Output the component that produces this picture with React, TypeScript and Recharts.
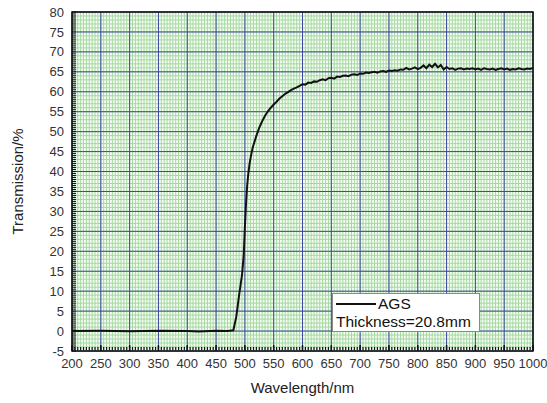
import {
  CartesianGrid,
  Legend,
  Line,
  LineChart,
  ReferenceArea,
  XAxis,
  YAxis
} from "recharts";

const wavelength = [
  200, 250, 300, 350, 400, 420, 450, 470, 480, 485, 490, 495, 498, 500, 502, 504, 506, 508, 510, 512,
  514, 517, 520, 525, 530, 535, 540, 545, 550, 555, 560, 565, 570, 575, 580, 585, 590, 595, 600,
  605, 610, 615, 620, 625, 630, 635, 640, 645, 650, 655, 660, 665, 670, 675, 680, 685, 690, 695, 700,
  705, 710, 715, 720, 725, 730, 735, 740, 745, 750, 755, 760, 765, 770, 775, 780, 785, 790, 795, 800,
  805, 810, 815, 820, 825, 830, 835, 840, 845, 850, 855, 860, 865, 870, 875, 880, 885, 890, 895, 900,
  905, 910, 915, 920, 925, 930, 935, 940, 945, 950, 955, 960, 965, 970, 975, 980, 985, 990, 995, 1000
];

const transmission = [
  0, 0.05, -0.05, 0.1, 0, -0.1, 0.05, 0, 0.2, 3.5, 9, 14, 19, 26, 32, 36.5, 39.5, 41.8, 43.5, 45,
  46.2, 47.6, 49, 51, 52.6, 54, 55.1, 56, 56.8, 57.5, 58.3, 58.9, 59.5, 59.9, 60.4, 60.8, 61.1, 61.5, 61.9,
  61.8, 62.3, 62.2, 62.6, 62.5, 62.9, 63.1, 62.9, 63.4, 63.5, 63.3, 63.8, 63.7, 64.0, 64.1, 63.9, 64.3, 64.4, 64.2, 64.6,
  64.5, 64.8, 64.7, 64.9, 65.0, 64.8, 65.1, 65.2, 65.0, 65.3, 65.2, 65.4, 65.3, 65.6, 65.5, 66.0, 65.6, 65.8, 66.1, 65.7,
  66.0, 66.6, 65.9, 66.8, 66.2, 67.0, 66.1, 66.7, 65.6, 66.2, 65.7, 65.9, 65.5, 65.8, 65.9, 65.6, 65.8, 65.7, 65.9, 65.6,
  65.8, 65.5, 65.9, 65.7, 65.6, 65.8, 65.5, 65.7, 65.9, 65.6, 65.8, 65.5, 65.7, 65.6, 65.9, 65.7, 65.6, 65.8, 65.7, 66.0
];

const xTicks = [200, 250, 300, 350, 400, 450, 500, 550, 600, 650, 700, 750, 800, 850, 900, 950, 1000];
const yTicks = [-5, 0, 5, 10, 15, 20, 25, 30, 35, 40, 45, 50, 55, 60, 65, 70, 75, 80];

const seriesName = "AGS";
const sampleNote = "Thickness=20.8mm";

// fine grid / minor tick steps
const range = (from: number, to: number, step: number) => {
  const out: number[] = [];
  for (let v = from; v <= to + 1e-9; v += step) out.push(Math.round(v * 100) / 100);
  return out;
};
const xMinor = range(200, 1000, 5);
const yMinor = range(-5, 80, 1);
const yMinorTicks = range(-5, 80, 0.5);

const rows = wavelength.map((wl, i) => ({ wl, t: transmission[i] }));

const font = '"Liberation Sans", Arial, sans-serif';

const NoLabel = () => <g />;
// only every 5 % gets a number, the rest are bare ticks
const yLabel = (v: number) => (yTicks.includes(v) ? String(v) : "");

function YTitle(props: any) {
  const { viewBox } = props;
  const cx = viewBox.x + 5;
  const cy = viewBox.y + viewBox.height / 2;
  return (
    <text
      x={cx}
      y={cy}
      transform={`rotate(-90 ${cx} ${cy})`}
      textAnchor="middle"
      dominantBaseline="central"
      fill="#222"
      fontSize={15}
      fontFamily={font}
    >
      Transmission/%
    </text>
  );
}

function LegendBox(props: any) {
  const { payload } = props;
  return (
    <div
      style={{
        width: 148,
        height: 39,
        boxSizing: "border-box",
        border: "1px solid #8a8a8a",
        background: "#fff",
        padding: "1px 3px",
        fontFamily: font,
        fontSize: 15.5,
        lineHeight: "18px",
        color: "#111"
      }}
    >
      {(payload || []).map((item: any) => (
        <div key={item.value} style={{ display: "flex", alignItems: "center" }}>
          <span
            style={{
              display: "inline-block",
              width: 40,
              borderTop: `2px solid ${item.color}`,
              marginRight: 2
            }}
          />
          {item.value}
        </div>
      ))}
      <div>{sampleNote}</div>
    </div>
  );
}

export default function App() {
  return (
    <div style={{ position: "absolute", left: 0, top: 0, width: 547, height: 403, background: "#fff" }}>
      <LineChart width={547} height={403} data={rows} margin={{ top: 12, right: 14, bottom: 22, left: 12 }}>
        <CartesianGrid
          verticalValues={xMinor}
          horizontalValues={yMinor}
          stroke="#a3d99f"
          strokeWidth={1}
          fill="#f6fcf4"
        />
        <CartesianGrid verticalValues={xTicks} horizontalValues={yTicks} stroke="#3d489c" strokeWidth={1} />
        <XAxis
          dataKey="wl"
          type="number"
          domain={[200, 1000]}
          ticks={xTicks}
          interval={0}
          tickLine={false}
          axisLine={false}
          height={30}
          tick={{ fill: "#333", fontSize: 13, fontFamily: font }}
          label={{ value: "Wavelength/nm", position: "insideBottom", offset: -12, fill: "#222", fontSize: 15, fontFamily: font }}
        />
        <YAxis
          type="number"
          domain={[-5, 80]}
          ticks={yMinorTicks}
          interval={0}
          tickFormatter={yLabel}
          tickSize={-4}
          tickMargin={12}
          tickLine={{ stroke: "#111", strokeWidth: 1 }}
          axisLine={false}
          width={60}
          tick={{ fill: "#333", fontSize: 13, fontFamily: font }}
          label={{ content: YTitle }}
        />
        <XAxis
          xAxisId="minorTicks"
          dataKey="wl"
          type="number"
          domain={[200, 1000]}
          ticks={xMinor}
          interval={0}
          mirror
          height={1}
          tick={NoLabel}
          axisLine={false}
          tickSize={3}
          tickLine={{ stroke: "#111", strokeWidth: 1.2 }}
        />
        <XAxis
          xAxisId="majorTicks"
          dataKey="wl"
          type="number"
          domain={[200, 1000]}
          ticks={xTicks}
          interval={0}
          mirror
          height={1}
          tick={NoLabel}
          axisLine={false}
          tickSize={6}
          tickLine={{ stroke: "#111", strokeWidth: 1.5 }}
        />
        <ReferenceArea
          x1={200}
          x2={1000}
          y1={-5}
          y2={80}
          fill="none"
          stroke="#111"
          strokeWidth={1.5}
          ifOverflow="visible"
        />
        <Legend
          layout="horizontal"
          verticalAlign="middle"
          align="center"
          content={<LegendBox />}
          wrapperStyle={{ left: 332, top: 293, width: "auto" }}
        />
        <Line
          dataKey="t"
          name={seriesName}
          type="linear"
          stroke="#111"
          strokeWidth={2}
          dot={false}
          isAnimationActive={false}
        />
      </LineChart>
    </div>
  );
}
